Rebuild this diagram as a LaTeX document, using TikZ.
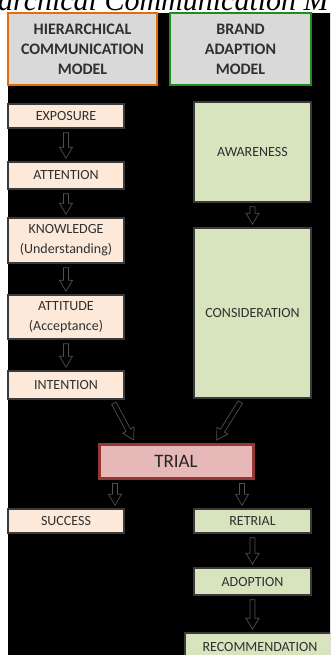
\documentclass[tikz,border=0pt]{standalone}
\usepackage{fontspec}
\setmainfont{Carlito}
\newfontfamily\titlefont{Liberation Serif}
\usetikzlibrary{calc,positioning}
\definecolor{peach}{HTML}{FDE9D9}
\definecolor{sage}{HTML}{D7E4BD}
\definecolor{rose}{HTML}{E6B9B8}
\definecolor{wine}{HTML}{953735}
\definecolor{hdrfill}{HTML}{D9D9D9}
\definecolor{hdrorange}{HTML}{E46C0A}
\definecolor{hdrgreen}{HTML}{1E8C1E}
\definecolor{boxgrey}{HTML}{3A3A3A}
\definecolor{txtgrey}{HTML}{303030}
\definecolor{arrowgrey}{HTML}{505050}

\begin{document}
\begin{tikzpicture}[x=1pt,y=-1pt]
      \tikzstyle{every node}=[font=\fontsize{14}{20}\selectfont, text=txtgrey, inner sep=0pt, align=center]
      \tikzstyle{header}=[fill=hdrfill, line width=2.5pt, font=\bfseries\fontsize{16}{20}\selectfont, minimum height=72pt]
      \tikzstyle{hcm}=[draw=boxgrey, line width=1.5pt, fill=peach, minimum width=116pt, minimum height=24pt]
      \tikzstyle{bam}=[draw=boxgrey, line width=1.5pt, fill=sage, minimum width=117pt, minimum height=24pt]
      % outlined block arrow, built between the two end points
      \tikzstyle{hollow}=[draw=arrowgrey, line width=0.7pt, fill=black, to path={
          ($(\tikztostart)!4pt!(\tikztotarget)$) coordinate (s)
          ($(\tikztotarget)!3pt!(\tikztostart)$) coordinate (e)
          ($(e)!11pt!(s)$) coordinate (h)
          ($(s)!2.5pt!90:(e)$) -- ($(h)!2.5pt!-90:(s)$) -- ($(h)!6.5pt!-90:(s)$) -- (e)
          -- ($(h)!6.5pt!90:(s)$) -- ($(h)!2.5pt!90:(s)$) -- ($(s)!2.5pt!-90:(e)$) -- cycle}]

      \useasboundingbox (0,0) rectangle (330,655);
      \clip (0,0) rectangle (330,655);
      \fill[black] (8,13) rectangle (335,660);

      % cut-off title
      \node[anchor=base west, text=black, font=\titlefont\itshape\fontsize{30}{30}\selectfont] (title) at (-2,11) {archical Communication M};

      % model headers
      \node[header, draw=hdrorange, minimum width=149pt] (HCM) at (82.5,49) {HIERARCHICAL\\COMMUNICATION\\MODEL};
      \node[header, draw=hdrgreen, minimum width=141pt] (BAM) at (240.5,49) {BRAND\\ADAPTION\\MODEL};

      % hierarchical communication model
      \node[hcm] (EXP) at (66,116) {EXPOSURE};
      \node[hcm, minimum height=27pt] (ATT) at (66,175.5) {ATTENTION};
      \node[hcm, minimum height=45pt] (KNO) at (66,240.5) {KNOWLEDGE\\(Understanding)};
      \node[hcm, minimum height=44pt] (ATD) at (66,317) {ATTITUDE\\(Acceptance)};
      \node[hcm, minimum height=28pt] (INT) at (66,385) {INTENTION};
      \node[hcm] (SUC) at (66,521) {SUCCESS};

      % brand adaption model
      \node[bam, minimum height=100pt] (AWA) at (252.5,152) {AWARENESS};
      \node[bam, minimum height=170pt] (CON) at (252.5,313) {CONSIDERATION};
      \node[bam] (RET) at (252.5,521) {RETRIAL};
      \node[bam, minimum height=27pt] (ADO) at (252.5,581.5) {ADOPTION};
      \node[bam, minimum width=150pt, minimum height=28pt] (REC) at (260,647) {RECOMMENDATION};

      \node[draw=wine, line width=3pt, fill=rose, minimum width=154pt, minimum height=34pt,
            text=black!85, font=\fontsize{19}{20}\selectfont] (TRI) at (176,461) {TRIAL};

      \draw[hollow] (EXP.south) to (ATT.north);
      \draw[hollow] (ATT.south) to (KNO.north);
      \draw[hollow] (KNO.south) to (ATD.north);
      \draw[hollow] (ATD.south) to (INT.north);
      \draw[hollow] ([xshift=46pt]INT.south) to ([xshift=-41pt]TRI.north);
      \draw[hollow] ([xshift=-10pt]CON.south) to ([xshift=39pt]TRI.north);
      \draw[hollow] (AWA.south) to (CON.north);
      \draw[hollow] ([xshift=-61pt]TRI.south) to ([xshift=-61pt]TRI.south |- SUC.north);
      \draw[hollow] ([xshift=66pt]TRI.south) to ([xshift=66pt]TRI.south |- RET.north);
      \draw[hollow] (RET.south) to (ADO.north);
      \draw[hollow] (ADO.south) to (ADO.south |- REC.north);
\end{tikzpicture}
\end{document}
